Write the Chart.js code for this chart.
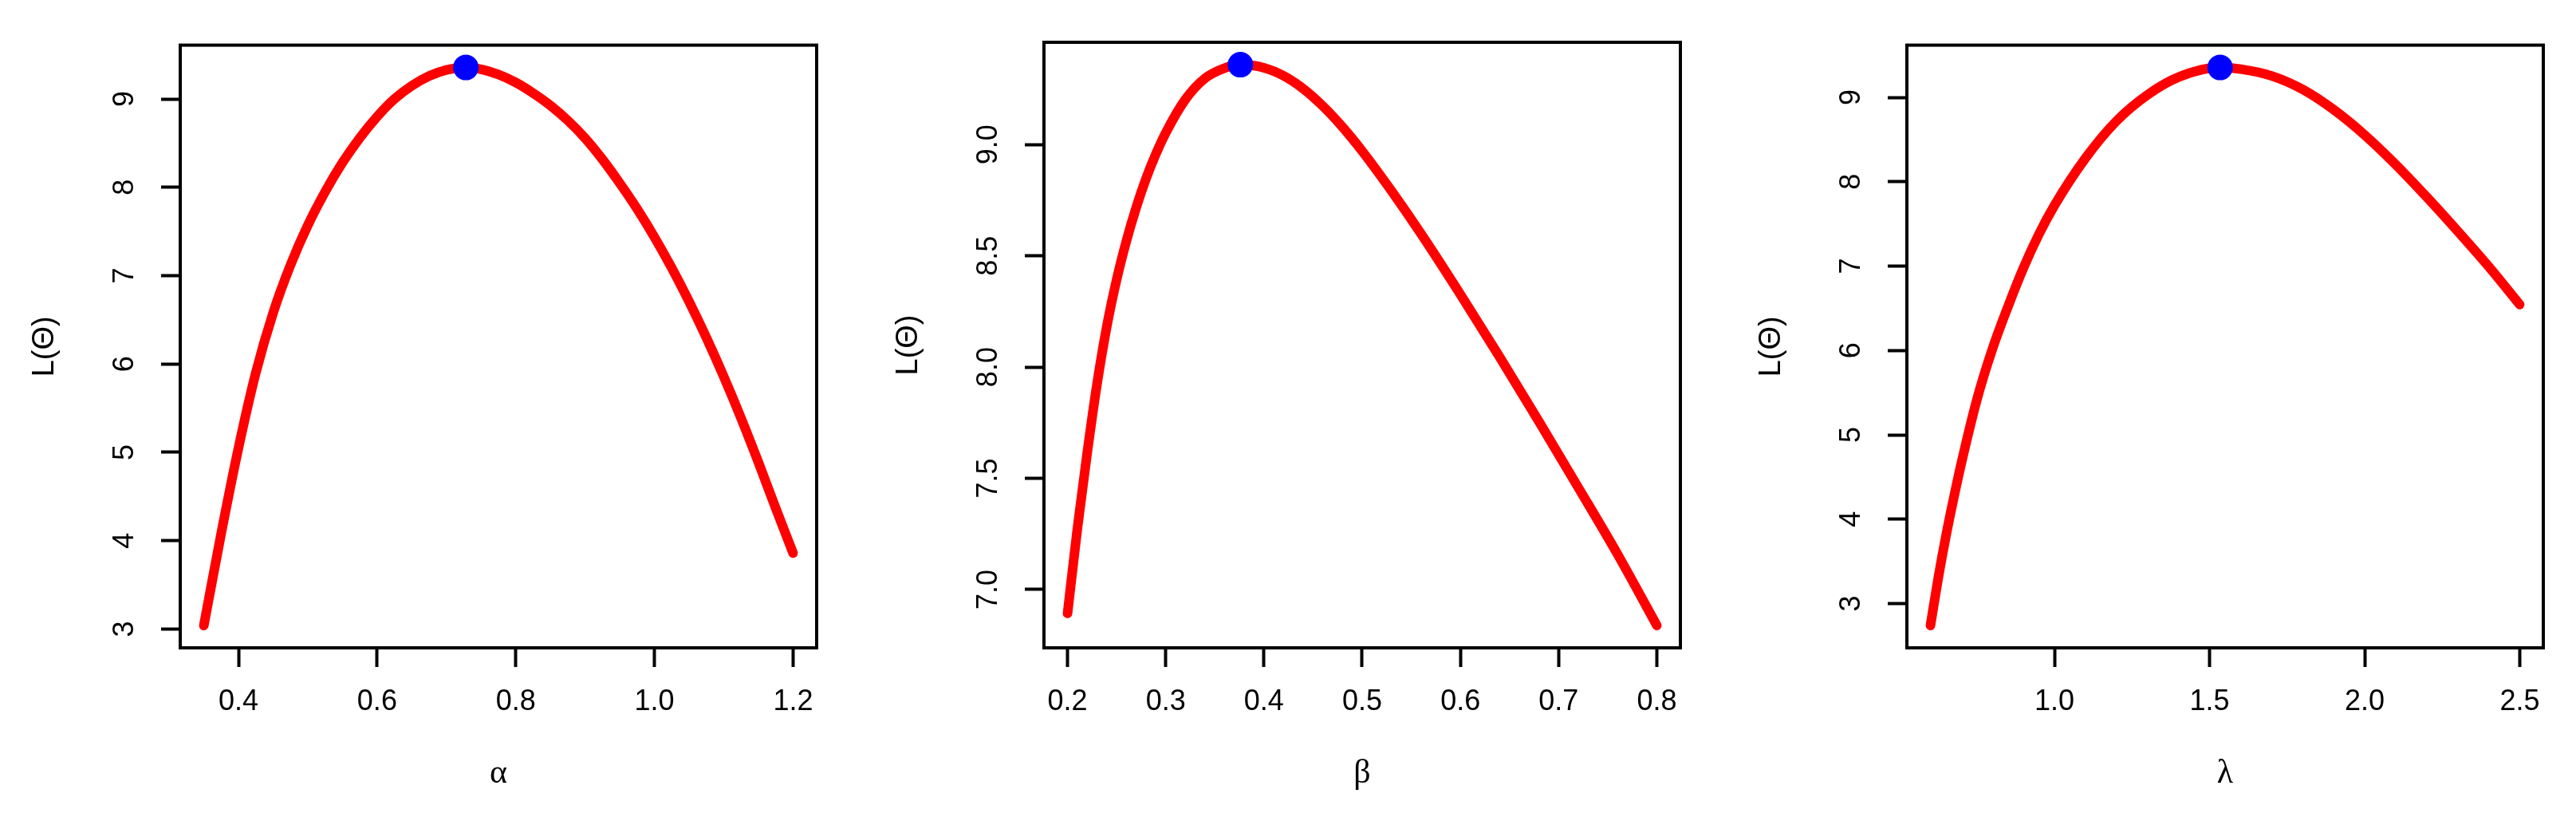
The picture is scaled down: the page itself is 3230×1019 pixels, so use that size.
<!DOCTYPE html>
<html>
<head>
<meta charset="utf-8">
<script src="https://cdn.jsdelivr.net/npm/chart.js@4.4.0/dist/chart.umd.min.js"></script>
<style>
  html, body { margin: 0; padding: 0; background: #fff; }
  #wrap { position: relative; width: 3230px; height: 1019px; }
  .panel { position: absolute; top: 0; width: 1060px; height: 1019px; }
</style>
</head>
<body>
<div id="wrap">
  <div class="panel" style="left:0px"><canvas id="cAlpha"></canvas></div>
  <div class="panel" style="left:1083px"><canvas id="cBeta"></canvas></div>
  <div class="panel" style="left:2165px"><canvas id="cLambda"></canvas></div>
</div>
<script>
// profile log-likelihood
const alphaX = [0.35, 0.375, 0.40, 0.425, 0.45, 0.475, 0.50, 0.525, 0.55, 0.575, 0.60, 0.625, 0.65, 0.675, 0.70, 0.728,
                0.75, 0.775, 0.80, 0.825, 0.85, 0.875, 0.90, 0.925, 0.95, 0.975, 1.0, 1.025, 1.05, 1.075, 1.10, 1.125, 1.15, 1.175, 1.20];
const alphaY = [3.04, 4.08, 5.05, 5.90, 6.58, 7.12, 7.57, 7.95, 8.28, 8.56, 8.80, 9.00, 9.15, 9.26, 9.33, 9.357,
                9.337, 9.277, 9.187, 9.067, 8.927, 8.757, 8.557, 8.317, 8.047, 7.757, 7.437, 7.087, 6.707, 6.297, 5.857, 5.387, 4.887, 4.367, 3.86];

const betaX = [0.2, 0.21, 0.22, 0.23, 0.24, 0.25, 0.26, 0.27, 0.28, 0.29, 0.30, 0.32, 0.34, 0.36, 0.376,
               0.40, 0.42, 0.44, 0.46, 0.48, 0.50, 0.53, 0.56, 0.60, 0.64, 0.68, 0.72, 0.76, 0.80];
const betaY = [6.893, 7.273, 7.613, 7.923, 8.183, 8.393, 8.568, 8.718, 8.848, 8.958, 9.053, 9.203, 9.298, 9.344, 9.359,
               9.345, 9.309, 9.251, 9.173, 9.079, 8.971, 8.791, 8.599, 8.327, 8.045, 7.755, 7.459, 7.159, 6.839];

const lambdaX = [0.6, 0.625, 0.65, 0.675, 0.70, 0.75, 0.80, 0.85, 0.90, 0.95, 1.0, 1.1, 1.2, 1.3, 1.4, 1.534,
                 1.6, 1.7, 1.8, 1.9, 2.0, 2.1, 2.2, 2.3, 2.4, 2.5];
const lambdaY = [2.74, 3.30, 3.80, 4.25, 4.67, 5.42, 6.02, 6.52, 6.98, 7.38, 7.72, 8.28, 8.72, 9.03, 9.24, 9.354,
                 9.334, 9.254, 9.094, 8.854, 8.554, 8.204, 7.819, 7.414, 6.994, 6.544];

// maxima (blue dots)
const alphaPeak = [0.728, 9.357];
const betaPeak = [0.376, 9.359];
const lambdaPeak = [1.534, 9.354];

// tick labels
const alphaXTicks = [0.4, 0.6, 0.8, 1.0, 1.2];
const alphaYTicks = [3, 4, 5, 6, 7, 8, 9];
const betaXTicks = [0.2, 0.3, 0.4, 0.5, 0.6, 0.7, 0.8];
const betaYTicks = [7.0, 7.5, 8.0, 8.5, 9.0];
const lambdaXTicks = [1.0, 1.5, 2.0, 2.5];
const lambdaYTicks = [3, 4, 5, 6, 7, 8, 9];

const SANS = '"Liberation Sans", Arial, sans-serif';
const SERIF = '"Liberation Serif", "DejaVu Serif", serif';
const TICK_SIZE = 36;

// R style axis range: data range widened by 4% each side
function rRange(v) {
  const lo = Math.min(...v), hi = Math.max(...v);
  const d = (hi - lo) * 0.04;
  return [lo - d, hi + d];
}

function textWidth(str, font) {
  const c = document.createElement('canvas').getContext('2d');
  c.font = font;
  return c.measureText(str).width;
}

const frame = {
  id: 'frame',
  afterDraw(chart) {
    const { ctx, chartArea: a } = chart;
    ctx.save();
    ctx.strokeStyle = '#000';
    ctx.lineWidth = 4;
    ctx.strokeRect(a.left, a.top, a.right - a.left, a.bottom - a.top);
    ctx.restore();
  }
};

function makePanel(id, xs, ys, peak, xTicks, yTicks, xDig, yDig, xTitle) {
  const [xMin, xMax] = rRange(xs);
  const [yMin, yMax] = rRange(ys);
  const curve = xs.map((x, i) => ({ x, y: ys[i] }));
  const yLabels = yTicks.map(v => v.toFixed(yDig));
  const widest = Math.max(...yLabels.map(s => textWidth(s, TICK_SIZE + 'px ' + SANS)));
  const yPad = 69 - 24 - widest / 2;

  return new Chart(document.getElementById(id), {
    type: 'line',
    data: {
      datasets: [
        {
          data: [{ x: peak[0], y: peak[1] }],
          showLine: false,
          pointRadius: 16,
          pointBackgroundColor: '#0000ff',
          pointBorderWidth: 0,
          order: 0
        },
        {
          data: curve,
          borderColor: '#ff0000',
          borderWidth: 12,
          borderCapStyle: 'round',
          borderJoinStyle: 'round',
          pointRadius: 0,
          cubicInterpolationMode: 'monotone',
          fill: false,
          order: 1
        }
      ]
    },
    options: {
      responsive: true,
      maintainAspectRatio: false,
      animation: false,
      layout: { padding: { top: 53, right: 36, left: 0, bottom: 0 } },
      plugins: { legend: { display: false }, tooltip: { enabled: false } },
      scales: {
        x: {
          type: 'linear', min: xMin, max: xMax,
          afterBuildTicks: a => { a.ticks = xTicks.map(v => ({ value: v })); },
          afterFit: s => { s.height = 207; },
          grid: { drawOnChartArea: false, drawTicks: true, tickLength: 24, tickWidth: 4, tickColor: '#000' },
          border: { display: true, color: '#000', width: 4 },
          ticks: { color: '#000', font: { family: SANS, size: TICK_SIZE }, padding: 22, maxRotation: 0,
                   callback: v => Number(v).toFixed(xDig) },
          title: { display: true, text: xTitle, color: '#000', font: { family: SERIF, size: 42 },
                   padding: { top: 0, bottom: 24 } }
        },
        y: {
          type: 'linear', min: yMin, max: yMax,
          afterBuildTicks: a => { a.ticks = yTicks.map(v => ({ value: v })); },
          afterFit: s => { s.width = 226; },
          grid: { drawOnChartArea: false, drawTicks: true, tickLength: 24, tickWidth: 4, tickColor: '#000' },
          border: { display: true, color: '#000', width: 4 },
          ticks: { color: '#000', font: { family: SANS, size: TICK_SIZE }, padding: yPad,
                   minRotation: 90, maxRotation: 90, crossAlign: 'center',
                   callback: v => Number(v).toFixed(yDig) },
          title: { display: true, text: 'L(\u0398)', color: '#000', font: { family: SANS, size: 38 },
                   padding: { top: 34, bottom: 0 } }
        }
      }
    },
    plugins: [frame]
  });
}

makePanel('cAlpha', alphaX, alphaY, alphaPeak, alphaXTicks, alphaYTicks, 1, 0, '\u03b1');
makePanel('cBeta', betaX, betaY, betaPeak, betaXTicks, betaYTicks, 1, 1, '\u03b2');
makePanel('cLambda', lambdaX, lambdaY, lambdaPeak, lambdaXTicks, lambdaYTicks, 1, 0, '\u03bb');
</script>
</body>
</html>
